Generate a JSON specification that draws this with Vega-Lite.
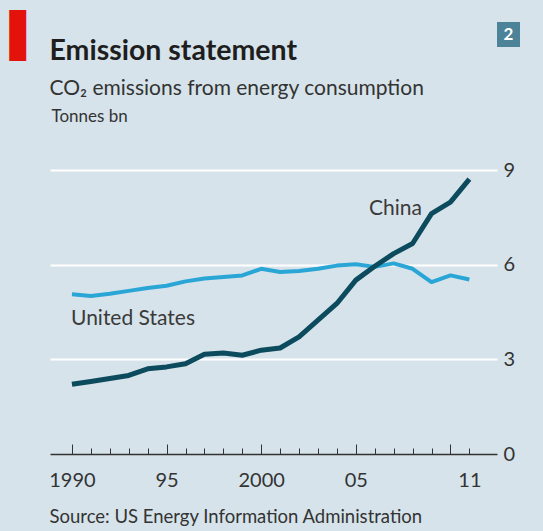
{
  "$schema": "https://vega.github.io/schema/vega-lite/v6.json",
  "width": 447,
  "height": 284,
  "autosize": "none",
  "padding": {"left": 50, "top": 170, "right": 46, "bottom": 77},
  "background": "#d6e3ea",
  "config": {"view": {"stroke": null}, "font": "Lato"},
  "data": {
    "values": [
      {"country": "United States", "year": 1990, "value": 5.06},
      {"country": "United States", "year": 1991, "value": 5.01},
      {"country": "United States", "year": 1992, "value": 5.08},
      {"country": "United States", "year": 1993, "value": 5.17},
      {"country": "United States", "year": 1994, "value": 5.26},
      {"country": "United States", "year": 1995, "value": 5.33},
      {"country": "United States", "year": 1996, "value": 5.47},
      {"country": "United States", "year": 1997, "value": 5.56},
      {"country": "United States", "year": 1998, "value": 5.61},
      {"country": "United States", "year": 1999, "value": 5.66},
      {"country": "United States", "year": 2000, "value": 5.87},
      {"country": "United States", "year": 2001, "value": 5.77},
      {"country": "United States", "year": 2002, "value": 5.8},
      {"country": "United States", "year": 2003, "value": 5.87},
      {"country": "United States", "year": 2004, "value": 5.97},
      {"country": "United States", "year": 2005, "value": 6.01},
      {"country": "United States", "year": 2006, "value": 5.93},
      {"country": "United States", "year": 2007, "value": 6.04},
      {"country": "United States", "year": 2008, "value": 5.87},
      {"country": "United States", "year": 2009, "value": 5.45},
      {"country": "United States", "year": 2010, "value": 5.66},
      {"country": "United States", "year": 2011, "value": 5.53},
      {"country": "China", "year": 1990, "value": 2.21},
      {"country": "China", "year": 1991, "value": 2.3},
      {"country": "China", "year": 1992, "value": 2.39},
      {"country": "China", "year": 1993, "value": 2.49},
      {"country": "China", "year": 1994, "value": 2.7},
      {"country": "China", "year": 1995, "value": 2.76},
      {"country": "China", "year": 1996, "value": 2.86},
      {"country": "China", "year": 1997, "value": 3.16},
      {"country": "China", "year": 1998, "value": 3.2},
      {"country": "China", "year": 1999, "value": 3.13},
      {"country": "China", "year": 2000, "value": 3.29},
      {"country": "China", "year": 2001, "value": 3.36},
      {"country": "China", "year": 2002, "value": 3.71},
      {"country": "China", "year": 2003, "value": 4.24},
      {"country": "China", "year": 2004, "value": 4.77},
      {"country": "China", "year": 2005, "value": 5.51},
      {"country": "China", "year": 2006, "value": 5.95},
      {"country": "China", "year": 2007, "value": 6.35},
      {"country": "China", "year": 2008, "value": 6.67},
      {"country": "China", "year": 2009, "value": 7.62},
      {"country": "China", "year": 2010, "value": 7.98},
      {"country": "China", "year": 2011, "value": 8.71}
    ]
  },
  "resolve": {"axis": {"x": "independent", "y": "independent"}},
  "layer": [
    {
      "transform": [{"filter": "datum.country === 'United States'"}],
      "mark": {"type": "line", "color": "#2aa6d6", "strokeWidth": 4, "strokeJoin": "round"},
      "encoding": {
        "x": {
          "field": "year", "type": "quantitative",
          "scale": {"domain": [1988.84, 2012.46], "nice": false, "zero": false},
          "axis": {
            "orient": "bottom",
            "values": [1990, 1995, 2000, 2005, 2011],
            "format": "d",
            "labelExpr": "indexof([1990,2000], datum.value) >= 0 ? datum.label : slice(datum.label, 2)",
            "ticks": false,
            "tickSize": 0,
            "domainColor": "#333333",
            "domainWidth": 1.3,
            "grid": false,
            "labelFont": "Lato",
            "labelFontSize": 20,
            "labelColor": "#333333",
            "labelPadding": 16,
            "labelFlush": false,
            "labelOverlap": false,
            "title": "Source: US Energy Information Administration",
            "titleFont": "Lato",
            "titleFontSize": 18.5,
            "titleFontWeight": "normal",
            "titleColor": "#333333",
            "titleAlign": "left",
            "titleAnchor": "start",
            "titleBaseline": "alphabetic",
            "titleX": -1,
            "titleY": 68
          }
        },
        "y": {
          "field": "value", "type": "quantitative",
          "scale": {"domain": [0, 9], "nice": false},
          "axis": {
            "orient": "right",
            "values": [0, 3, 6, 9],
            "ticks": false,
            "domain": false,
            "grid": true,
            "gridColor": "#ffffff",
            "gridWidth": 2,
            "gridOpacity": {"condition": {"test": "datum.value === 0", "value": 0}, "value": 1},
            "labelFont": "Lato",
            "labelFontSize": 20,
            "labelColor": "#333333",
            "labelPadding": 6,
            "title": "Tonnes bn",
            "titleFont": "Lato",
            "titleFontSize": 17,
            "titleFontWeight": "normal",
            "titleColor": "#333333",
            "titleAngle": 0,
            "titleAlign": "left",
            "titleBaseline": "alphabetic",
            "titleX": -446,
            "titleY": -49
          }
        }
      }
    },
    {
      "transform": [{"filter": "datum.country === 'China'"}],
      "mark": {"type": "line", "color": "#0c4a5d", "strokeWidth": 5, "strokeJoin": "round"},
      "encoding": {
        "x": {
          "field": "year", "type": "quantitative",
          "axis": {
            "orient": "top",
            "offset": -284,
            "values": [1990, 1995, 2000, 2005, 2010],
            "tickSize": 10,
            "tickColor": "#333333",
            "tickWidth": 1,
            "labels": false, "domain": false, "grid": false,
            "title": "CO₂ emissions from energy consumption",
            "titleFont": "Lato",
            "titleFontSize": 21,
            "titleFontWeight": "normal",
            "titleColor": "#333333",
            "titleAlign": "left",
            "titleAnchor": "start",
            "titleBaseline": "alphabetic",
            "titleX": -1,
            "titleY": -360
          }
        },
        "y": {"field": "value", "type": "quantitative", "axis": null}
      }
    },
    {
      "data": {
        "values": [
          {"label": "China", "year": 2005.7, "value": 7.57},
          {"label": "United States", "year": 1989.95, "value": 4.1}
        ]
      },
      "mark": {"type": "text", "align": "left", "baseline": "alphabetic", "font": "Lato", "fontSize": 21, "color": "#3a3a3a"},
      "encoding": {
        "x": {
          "field": "year", "type": "quantitative",
          "axis": {
            "orient": "top",
            "offset": -284,
            "values": [1990,1991,1992,1993,1994,1995,1996,1997,1998,1999,2000,2001,2002,2003,2004,2005,2006,2007,2008,2009,2010,2011],
            "tickSize": 6,
            "tickColor": "#333333",
            "tickWidth": 1,
            "labels": false,
            "domain": false,
            "grid": false,
            "title": "Emission statement",
            "titleFont": "Lato",
            "titleFontSize": 28.5,
            "titleFontWeight": "bold",
            "titleColor": "#1e1e1e",
            "titleAlign": "left",
            "titleAnchor": "start",
            "titleBaseline": "alphabetic",
            "titleX": -1,
            "titleY": -394.5
          }
        },
        "y": {
          "field": "value", "type": "quantitative",
          "axis": {
            "orient": "left",
            "labels": false, "ticks": false, "domain": false, "grid": false,
            "title": "▌",
            "titleFont": "DejaVu Sans",
            "titleFontSize": 43,
            "titleFontWeight": "normal",
            "titleColor": "#e3120b",
            "titleAngle": 0,
            "titleAlign": "left",
            "titleBaseline": "alphabetic",
            "titleX": -41,
            "titleY": -121
          }
        },
        "text": {"field": "label"}
      }
    },
    {
      "data": {"values": [{"badge": "2"}]},
      "mark": {"type": "point", "opacity": 0, "filled": true},
      "encoding": {
        "fill": {
          "field": "badge", "type": "nominal",
          "scale": {"range": ["#4d8399"]},
          "legend": {
            "orient": "none", "legendX": 446, "legendY": -148,
            "title": null, "padding": 0,
            "symbolType": "M-0.92,-1H0.92V1H-0.92Z",
            "symbolSize": 625,
            "symbolStrokeWidth": 0,
            "labelColor": "#ffffff", "labelFont": "Lato", "labelFontWeight": "bold", "labelFontSize": 17,
            "labelAlign": "center", "labelOffset": -12.5,
            "encode": {"symbols": {"update": {"fill": {"value": "#4d8399"}, "opacity": {"value": 1}, "strokeWidth": {"value": 0}, "shape": {"value": "M-0.92,-1H0.92V1H-0.92Z"}, "size": {"value": 625}}}}
          }
        }
      }
    }
  ]
}
